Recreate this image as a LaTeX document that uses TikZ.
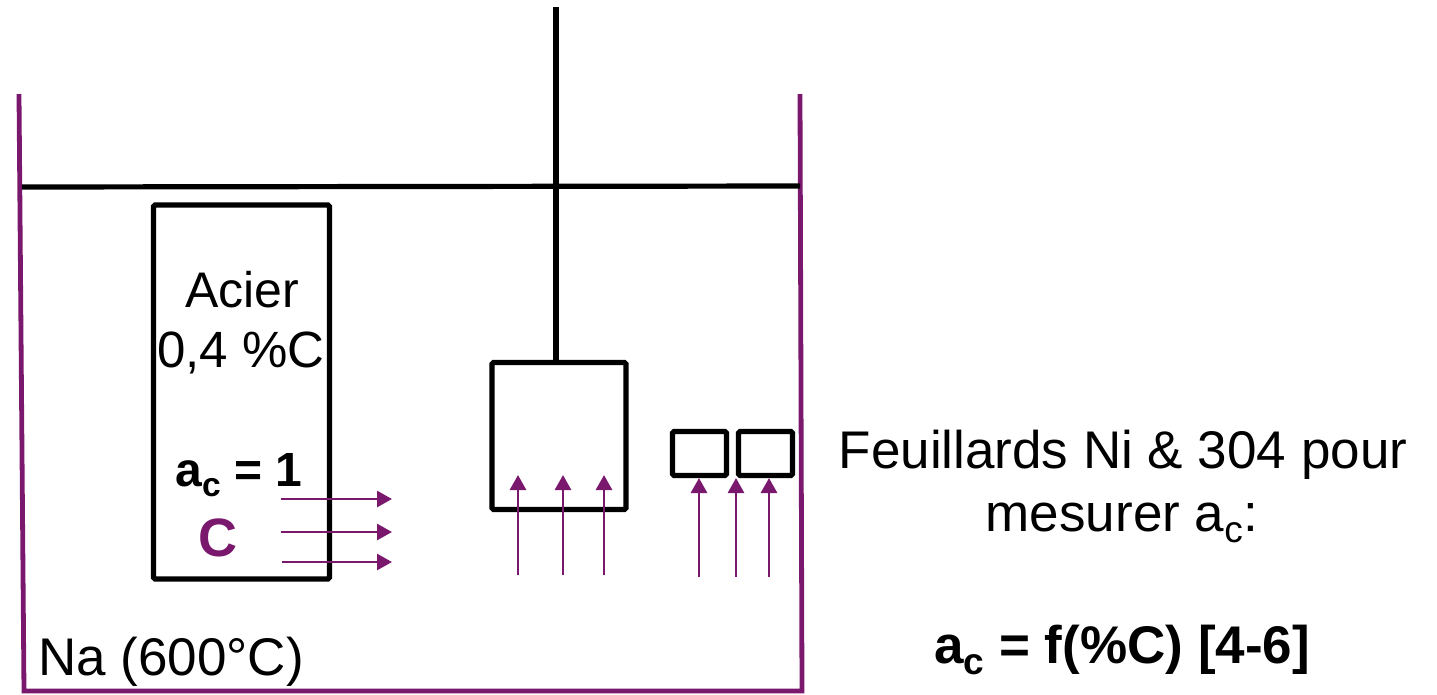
\documentclass[tikz,border=0pt]{standalone}
\usepackage{fontspec}
\setmainfont{Liberation Sans}
\usetikzlibrary{arrows.meta}
\definecolor{vio}{RGB}{122,24,110}
\tikzset{
  blk/.style={draw=black,line width=5.2pt,rounded corners=1.5pt},
  wall/.style={draw=vio,line width=4.8pt},
  flux/.style={draw=vio,line width=2.8pt,-{Triangle[length=15pt,width=16pt]}},
  lab/.style={inner sep=0pt,font=\fontsize{53}{60}\selectfont,text=black,align=center}
}
\begin{document}
\begin{tikzpicture}[x=1pt,y=-1pt]
\useasboundingbox (0,0) rectangle (1437,694);
\coordinate (wtl) at (19,94); \coordinate (wbl) at (24,691);
\coordinate (wtr) at (800,94); \coordinate (wbr) at (802,691);
\draw[wall] (wtl) -- (wbl) -- (wbr) -- (wtr);
\coordinate (ll) at (22,187); \coordinate (lr) at (800,186);
\draw[blk] (ll) -- (lr);
\node[blk,minimum width=176pt,minimum height=374pt,inner sep=0pt] (acier) at (241.5,392) {};
\node[blk,minimum width=134pt,minimum height=147pt,inner sep=0pt] (panier) at (559,436) {};
\node[blk,minimum width=54pt,minimum height=44pt,inner sep=0pt] (f1) at (699.5,453.5) {};
\node[blk,minimum width=54pt,minimum height=44pt,inner sep=0pt] (f2) at (765.5,453.5) {};
\coordinate (top) at (556,7);
\draw[blk] (top) -- (panier.north -| top);
\node[lab,font=\fontsize{50}{56}\selectfont] (t1) at (242,290) {Acier};
\node[lab,font=\fontsize{51}{56}\selectfont] (t2) at (241,353) {0,4 \%C};
\node[lab,font=\fontsize{48}{54}\selectfont] (t3) at (239,475) {\textbf{a\textsubscript{c} = 1}};
\node[lab,font=\fontsize{54}{60}\selectfont\bfseries,text=vio] (t4) at (218,538) {C};
\node[lab,anchor=west] (t5) at (38,662) {Na (600°C)};
\node[lab] (t6) at (1123,455) {Feuillards Ni \& 304 pour};
\node[lab] (t7) at (1122,523) {mesurer a\textsubscript{c}:};
\node[lab] (t8) at (1122,650) {\textbf{a\textsubscript{c} = f(\%C) [4-6]}};
\foreach \n/\xa/\xb/\y in {a/281/392/499,b/281/392/532,c/282/392/562}{
  \coordinate (h\n s) at (\xa,\y); \coordinate (h\n e) at (\xb,\y);
  \draw[flux] (h\n s) -- (h\n e);
}
\foreach \n/\x/\ya/\yb in {a/518/575/475,b/563/575/475,c/604/575/475,d/699/577/478,e/736/577/478,f/769/577/478}{
  \coordinate (v\n s) at (\x,\ya); \coordinate (v\n e) at (\x,\yb);
  \draw[flux] (v\n s) -- (v\n e);
}
\end{tikzpicture}
\end{document}
